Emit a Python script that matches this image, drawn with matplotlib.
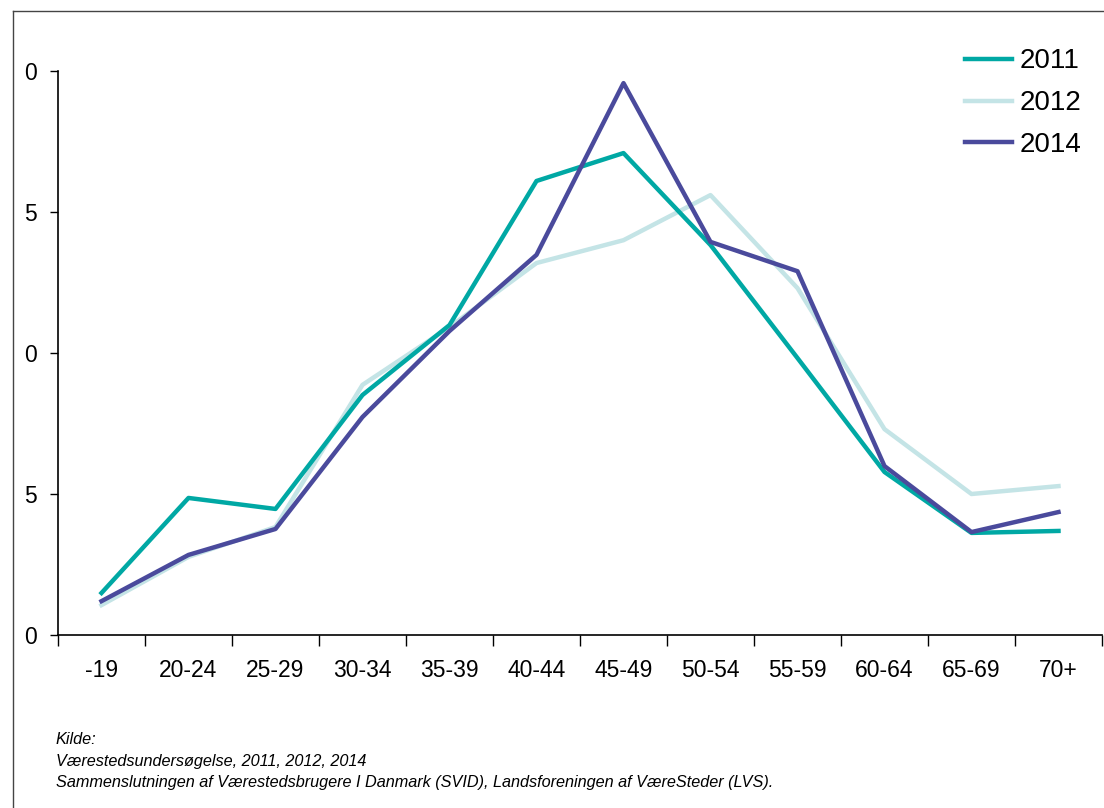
import matplotlib.pyplot as plt
from matplotlib.lines import Line2D

ages = ['-19', '20-24', '25-29', '30-34', '35-39', '40-44', '45-49',
        '50-54', '55-59', '60-64', '65-69', '70+']

v2011 = [1.49, 4.86, 4.47, 8.51, 10.99, 16.1, 17.09, 13.83, 9.82, 5.78, 3.62, 3.69]
v2012 = [1.06, 2.77, 3.83, 8.87, 10.92, 13.19, 14.0, 15.6, 12.3, 7.3, 5.0, 5.28]
v2014 = [1.2, 2.84, 3.76, 7.73, 10.78, 13.48, 19.57, 13.94, 12.9, 5.99, 3.65, 4.36]

yticks = [0, 5, 10, 15, 20]
ytick_labels = ['0', '5', '0', '5', '0']

fig = plt.figure(figsize=(11.04, 8.08), dpi=100)
ax = fig.add_axes([58 / 1104, 1 - 635 / 808, 1044 / 1104, 564 / 808])

x = list(range(len(ages)))
ax.plot(x, v2011, color='#00a8a4', lw=3.2, label='2011', zorder=3)
ax.plot(x, v2012, color='#c4e4e6', lw=3.2, label='2012', zorder=2)
ax.plot(x, v2014, color='#4a4a9c', lw=3.2, label='2014', zorder=4)

ax.set_xlim(-0.5, len(ages) - 0.5)
ax.set_ylim(0, 20)

# ticks on the category boundaries, labels in the middle
ax.set_xticks([i - 0.5 for i in range(len(ages) + 1)])
ax.set_xticklabels([])
ax.set_xticks(x, minor=True)
ax.set_xticklabels(ages, minor=True, fontsize=16.5, family='Liberation Sans')
ax.tick_params(axis='x', which='major', length=8, width=1)
ax.tick_params(axis='x', which='minor', length=0, pad=17)

ax.set_yticks(yticks)
ax.set_yticklabels(ytick_labels, fontsize=16.5, family='Liberation Sans')
ax.tick_params(axis='y', length=6, width=1, pad=9)

for s in ['top', 'right']:
    ax.spines[s].set_visible(False)
for s in ['left', 'bottom']:
    ax.spines[s].set_linewidth(1.2)

ax.legend(loc='upper left', bbox_to_anchor=(965 / 1104, 1 - 48.5 / 808),
          bbox_transform=fig.transFigure, frameon=False,
          prop={'family': 'Liberation Sans', 'size': 20},
          handlelength=1.7, handletextpad=0.28, labelspacing=0.57,
          borderpad=0, borderaxespad=0)

# frame lines on the left and top of the figure
fig.add_artist(Line2D([12.5 / 1104, 12.5 / 1104], [0, 1 - 11 / 808],
                      transform=fig.transFigure, color='#444444', lw=1))
fig.add_artist(Line2D([12.5 / 1104, 1], [1 - 11 / 808, 1 - 11 / 808],
                      transform=fig.transFigure, color='#444444', lw=1))

src = ['Kilde:',
       'Værestedsundersøgelse, 2011, 2012, 2014',
       'Sammenslutningen af Værestedsbrugere I Danmark (SVID), Landsforeningen af VæreSteder (LVS).']
for i, line in enumerate(src):
    fig.text(56 / 1104, 1 - (740 + 21.5 * i) / 808, line, fontsize=11.7,
             style='italic', family='Liberation Sans', va='center')

fig.savefig('out.png', dpi=100)
